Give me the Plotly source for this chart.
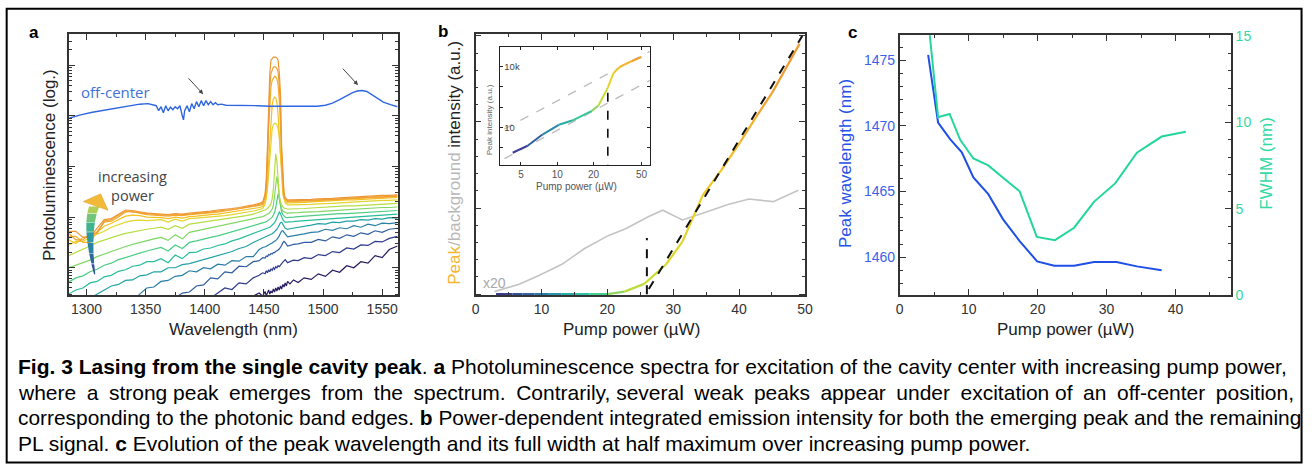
import numpy as np
import plotly.graph_objects as go

W, H = 1315, 472
def X(px): return px / W
def Y(py): return 1 - py / H

# ---------------- Panel a: PL spectra (log10 of intensity) ----------------
wavelength = [1285,1291,1297,1303,1309,1315,1321,1327,1333,1339,1345,1351,1357,1363,1369,1375,1381,1387,1393,1399,1405,1411,1417,1423,1429,1435,1441,
              1446,1449,
              1451,1452,1453,1454,1455,1456,1457,1458,1459,1460,1461,1462,1463,1464,1465,1466,1467,1468,1469,1470,
              1472,1475,1479,1484,
              1490,1496,1502,1508,1514,1520,1526,1532,1538,1544,1550,1556,
              1563]

log_p01 = [-1.2,-1.2,-1.2,-1.2,-1.2,-1.2,-1.2,-1.2,-1.2,-1.2,-1.2,-1.2,-1.2,-1.2,-1.2,-1.2,-1.2,-1.2,-1.2,-1.2,-1.2,-1.2,-1.0,-0.85,-0.7,-0.6,-0.56,
           -0.5,-0.56,
           -0.47,-0.55,-0.5,-0.44,-0.52,-0.46,-0.5,-0.42,-0.48,-0.4,-0.46,-0.38,-0.44,-0.36,-0.42,-0.33,-0.38,-0.3,-0.36,-0.27,
           -0.32,-0.24,-0.29,-0.2,
           -0.23,-0.12,-0.17,-0.05,-0.09,0.04,0.0,0.12,0.09,0.24,0.2,0.36,
           0.43]
log_p02 = [-1.2,-1.2,-1.2,-1.2,-1.2,-1.2,-1.2,-1.2,-1.2,-1.2,-1.2,-1.2,-1.2,-1.2,-1.2,-1.2,-1.2,-1.2,-1.2,-0.75,-0.6,-0.5,-0.4,-0.43,-0.3,-0.32,-0.2,
           -0.15,-0.1,
           -0.12,-0.06,-0.1,-0.04,-0.08,-0.02,-0.05,0.0,-0.03,0.02,0.0,0.04,0.02,0.06,0.08,0.11,0.14,0.16,0.13,0.1,
           0.12,0.15,0.14,0.2,
           0.18,0.26,0.24,0.32,0.3,0.39,0.37,0.45,0.44,0.52,0.51,0.58,
           0.62]
log_p03 = [-1.2,-1.2,-1.2,-1.2,-1.2,-1.2,-1.2,-1.2,-1.2,-1.2,-1.2,-1.2,-1.2,-0.9,-0.75,-0.6,-0.5,-0.48,-0.36,-0.34,-0.2,-0.22,-0.08,-0.1,0.03,0.02,0.12,
           0.14,0.2,
           0.19,0.23,0.22,0.26,0.25,0.28,0.27,0.3,0.3,0.32,0.33,0.35,0.37,0.4,0.44,0.49,0.52,0.5,0.45,0.43,
           0.44,0.46,0.47,0.5,
           0.5,0.56,0.53,0.61,0.58,0.65,0.62,0.69,0.66,0.73,0.7,0.76,
           0.78]
log_p04 = [-1.2,-1.2,-1.2,-1.2,-1.2,-1.2,-1.2,-1.2,-0.9,-0.68,-0.52,-0.4,-0.38,-0.27,-0.25,-0.17,-0.15,-0.06,-0.08,0.0,-0.02,0.07,0.05,0.14,0.13,0.22,0.22,
           0.36,0.4,
           0.41,0.42,0.44,0.45,0.46,0.48,0.49,0.51,0.52,0.54,0.56,0.59,0.63,0.68,0.72,0.73,0.7,0.65,0.62,0.61,
           0.62,0.63,0.65,0.67,
           0.7,0.71,0.76,0.74,0.79,0.77,0.83,0.8,0.86,0.83,0.88,0.87,
           0.89]
log_p05 = [-1.0,-0.85,-0.7,-0.6,-0.52,-0.44,-0.36,-0.33,-0.25,-0.24,-0.16,-0.14,-0.08,-0.08,0.0,0.0,0.06,0.08,0.12,0.15,0.2,0.23,0.28,0.32,0.38,0.42,0.5,
           0.55,0.59,
           0.6,0.61,0.62,0.63,0.64,0.66,0.67,0.69,0.71,0.73,0.76,0.8,0.85,0.89,0.9,0.86,0.81,0.78,0.77,0.76,
           0.77,0.78,0.8,0.82,
           0.84,0.87,0.86,0.9,0.89,0.92,0.92,0.95,0.94,0.97,0.96,0.99,
           0.98]
log_p06 = [-0.52,-0.44,-0.4,-0.3,-0.27,-0.18,-0.15,-0.07,-0.04,0.03,0.05,0.12,0.12,0.18,0.1,0.25,0.18,0.3,0.31,0.37,0.39,0.44,0.47,0.53,0.57,0.62,0.67,
           0.72,0.74,
           0.76,0.77,0.78,0.79,0.8,0.82,0.84,0.86,0.89,0.93,0.98,1.05,1.1,1.07,1.0,0.95,0.92,0.9,0.9,0.9,
           0.9,0.91,0.92,0.93,
           0.94,0.95,0.96,0.97,0.98,0.99,1.0,1.01,1.02,1.03,1.04,1.05,
           1.06]
log_p07 = [-0.28,-0.2,-0.16,-0.08,-0.03,0.05,0.09,0.16,0.2,0.25,0.29,0.33,0.36,0.4,0.33,0.45,0.38,0.5,0.53,0.57,0.6,0.63,0.67,0.7,0.74,0.78,0.82,
           0.86,0.88,
           0.9,0.91,0.92,0.94,0.96,0.98,1.0,1.04,1.09,1.18,1.32,1.46,1.36,1.2,1.1,1.05,1.02,1.0,0.99,0.99,
           0.99,1.0,1.01,1.02,
           1.03,1.04,1.05,1.06,1.07,1.07,1.08,1.09,1.1,1.11,1.11,1.12,
           1.13]
log_p08 = [0.0,0.05,0.1,0.15,0.22,0.27,0.33,0.37,0.42,0.46,0.5,0.54,0.57,0.6,0.54,0.65,0.57,0.7,0.73,0.76,0.79,0.82,0.84,0.87,0.9,0.93,0.96,
           0.99,1.01,
           1.03,1.04,1.05,1.07,1.09,1.12,1.16,1.23,1.38,1.62,1.8,1.65,1.4,1.24,1.16,1.12,1.1,1.09,1.08,1.08,
           1.08,1.08,1.09,1.1,
           1.1,1.11,1.12,1.13,1.14,1.15,1.16,1.16,1.17,1.18,1.19,1.19,
           1.2]
log_p09 = [0.24,0.3,0.37,0.43,0.5,0.55,0.6,0.64,0.68,0.71,0.74,0.76,0.78,0.8,0.76,0.83,0.78,0.86,0.88,0.9,0.92,0.94,0.96,0.98,1.0,1.03,1.06,
           1.1,1.12,
           1.14,1.15,1.17,1.19,1.22,1.27,1.36,1.55,1.95,2.25,2.1,1.7,1.42,1.3,1.24,1.2,1.18,1.17,1.16,1.16,
           1.16,1.16,1.17,1.17,
           1.18,1.19,1.19,1.2,1.21,1.22,1.22,1.23,1.24,1.25,1.25,1.26,
           1.27]
log_p10 = [0.45,0.52,0.52,0.6,0.66,0.72,0.8,0.85,0.9,0.93,0.94,0.93,0.94,0.95,0.9,0.96,0.92,0.97,0.98,0.99,1.0,1.01,1.03,1.05,1.07,1.09,1.12,
           1.15,1.17,
           1.26,1.36,1.55,1.9,2.25,2.58,2.75,2.82,2.85,2.85,2.82,2.75,2.58,2.25,1.9,1.56,1.38,1.28,1.25,1.24,
           1.24,1.24,1.24,1.25,
           1.25,1.26,1.26,1.27,1.28,1.29,1.3,1.3,1.31,1.32,1.33,1.33,
           1.34]
log_p11 = [0.55,0.48,0.6,0.62,0.7,0.82,0.88,0.95,1.02,1.04,1.03,1.0,1.0,0.99,0.97,1.0,0.98,1.01,1.02,1.04,1.05,1.06,1.08,1.1,1.12,1.14,1.16,
           1.19,1.21,
           1.32,1.42,1.66,2.09,2.56,2.98,3.22,3.33,3.37,3.35,3.26,3.02,2.6,2.13,1.7,1.46,1.36,1.31,1.29,1.28,
           1.28,1.28,1.29,1.29,
           1.3,1.31,1.31,1.32,1.33,1.34,1.34,1.35,1.36,1.37,1.37,1.38,
           1.39]
log_p12 = [0.62,0.62,0.5,0.5,0.72,0.9,0.92,1.0,1.1,1.12,1.08,1.05,1.04,1.03,1.02,1.04,1.03,1.05,1.06,1.08,1.09,1.1,1.12,1.14,1.16,1.18,1.2,
           1.23,1.25,
           1.4,1.57,2.02,2.78,3.28,3.58,3.7,3.76,3.78,3.77,3.73,3.61,3.31,2.81,2.05,1.6,1.43,1.36,1.33,1.31,
           1.31,1.31,1.31,1.32,
           1.32,1.33,1.33,1.34,1.35,1.36,1.36,1.37,1.38,1.39,1.39,1.4,
           1.41]
log_p13 = [0.68,0.55,0.55,0.68,0.68,0.92,0.95,1.03,1.12,1.1,1.09,1.07,1.06,1.04,1.04,1.05,1.05,1.06,1.07,1.09,1.1,1.12,1.13,1.15,1.17,1.19,1.22,
           1.25,1.27,
           1.41,1.66,2.19,3.11,3.57,3.84,3.92,3.96,3.97,3.96,3.93,3.87,3.6,3.14,2.22,1.69,1.44,1.36,1.33,1.32,
           1.32,1.32,1.32,1.33,
           1.33,1.34,1.34,1.35,1.36,1.37,1.37,1.38,1.39,1.4,1.4,1.41,
           1.42]
log_p14 = [0.72,0.72,0.6,0.6,0.78,0.95,0.97,1.06,1.14,1.13,1.1,1.08,1.07,1.06,1.05,1.07,1.06,1.08,1.09,1.11,1.12,1.14,1.15,1.17,1.19,1.21,1.24,
           1.27,1.3,
           1.46,1.75,2.4,3.45,3.85,4.1,4.14,4.16,4.16,4.16,4.14,4.1,3.85,3.45,2.4,1.75,1.47,1.38,1.35,1.34,
           1.34,1.34,1.34,1.35,
           1.35,1.36,1.36,1.37,1.38,1.39,1.39,1.4,1.41,1.42,1.43,1.43,
           1.44]

offc_wl = [1285,1295,1305,1315,1325,1335,1345,1352,1356,1359,
           1361,1363,1365,1367,1369,1371,1373,1375,1377,1379,1381,1382,1383,
           1385,1387,1389,1391,1393,1395,1397,1399,1401,1403,1405,1407,1409,1411,
           1414,1418,1425,1435,1445,1455,1465,1475,1485,1495,
           1502,1508,1514,1520,1525,1529,1533,1537,1541,1546,1551,1557,1563]
offc_log = [2.95,3.02,3.07,3.11,3.15,3.19,3.23,3.24,3.22,3.2,
            3.1,3.18,3.06,3.2,3.1,3.17,3.12,3.18,3.14,3.2,3.0,2.92,3.1,
            3.2,3.08,3.24,3.14,3.28,3.18,3.3,3.2,3.3,3.22,3.28,3.22,3.26,3.22,
            3.23,3.21,3.21,3.2,3.2,3.19,3.19,3.18,3.18,3.19,
            3.21,3.25,3.32,3.4,3.46,3.49,3.5,3.48,3.42,3.34,3.27,3.22,3.18]

spectra = [log_p01, log_p02, log_p03, log_p04, log_p05, log_p06, log_p07,
           log_p08, log_p09, log_p10, log_p11, log_p12, log_p13, log_p14]
spec_colors = ['#251a5f', '#2f3a8d', '#2f5c9f', '#2b7ea6', '#22a2a6', '#27bd9b', '#4bcd84',
               '#80d766', '#b6dd42', '#e3d52b', '#f4c022', '#f2ad2b', '#ef9f33', '#ee9636']

# ---------------- Panel b: integrated intensity ----------------
b_power = [3.1, 4.3, 5.6, 7.1, 8.9, 11.0, 13.0, 15.0, 17.3, 20.0, 22.6, 25.6, 28.9, 31.4, 34.5, 37.3, 40.2, 42.6, 45.1, 49.2]
b_peak = [0, 0, 0, 0, 0, 0, 0, 0, 0, 0, 0.03, 0.12, 0.345, 0.61, 1.15, 1.44, 1.77, 2.06, 2.35, 2.91]
b_seg_colors = ['#3a3593', '#37419a', '#3250a0', '#2f62a6', '#2b7aa9', '#2893aa', '#27aca8', '#2ec3a6',
                '#45cf8e', '#8dd565', '#bcdc3c', '#cadd30', '#dcd82a', '#e8d127', '#efc825', '#f3bc27',
                '#f3b02b', '#f1a530', '#ef9c34']
bg_power = [2.86, 6.6, 9.6, 13.1, 16.6, 20.2, 22.7, 26.2, 28.4, 31.4, 34.7, 38.2, 41.5, 45.2, 49.0]
bg_x20 = [0.03, 0.116, 0.217, 0.347, 0.534, 0.683, 0.758, 0.9, 0.975, 0.862, 0.945, 1.038, 1.105, 1.075, 1.206]
fit_power = [26.3, 49.6]
fit_val = [0.06, 3.0]
thr_power = [26.0, 26.0]
thr_val = [0.0, 0.654]

# inset (log-log)
in_power = [4.27, 5.68, 7.54, 10.3, 13.3, 19.4, 22.0, 26.3, 29.3, 33.2, 41.4, 50.0]
in_peak = [0.55, 1.23, 4.4, 13.3, 21.6, 65, 120, 920, 4800, 10000, 18600, 30200]
in_seg_colors = ['#3a3c98', '#2f5ea5', '#2987a9', '#27aca6', '#35c795', '#8cd565', '#c6dc33',
                 '#e3d529', '#f0c526', '#f3b42a', '#f0a132']
in_fit_power = [3.65, 60.4]
in_fit_hi = [8.3, 63000]
in_fit_lo = [0.28, 2290]
in_thr_power = [26.3, 26.3]
in_thr_val = [0.05, 920]

# ---------------- Panel c: peak wavelength & FWHM ----------------
c_power_wl = [4.12, 5.56, 7.33, 9.0, 10.68, 12.84, 14.99, 17.39, 19.93, 22.42, 25.29, 28.17, 31.43, 34.4, 37.99]
c_wl = [1475.42, 1470.26, 1468.97, 1467.99, 1466.07, 1464.8, 1462.88, 1461.23, 1459.68, 1459.34, 1459.34, 1459.63, 1459.63, 1459.3, 1459.0]
c_power_fwhm = [4.12, 5.56, 7.23, 8.77, 10.68, 12.84, 14.99, 17.39, 19.88, 22.52, 25.29, 28.17, 31.28, 34.4, 37.99, 41.49]
c_fwhm = [16.0, 10.31, 10.5, 9.0, 7.92, 7.52, 6.8, 6.02, 3.38, 3.19, 3.91, 5.41, 6.49, 8.26, 9.19, 9.47]

# ---------------- figure ----------------
fig = go.Figure()

for vals, col in zip(spectra, spec_colors):
    fig.add_trace(go.Scatter(x=wavelength, y=10 ** np.array(vals), mode='lines',
                             line=dict(color=col, width=1.2), xaxis='x', yaxis='y', hoverinfo='skip'))
fig.add_trace(go.Scatter(x=offc_wl, y=10 ** np.array(offc_log), mode='lines',
                         line=dict(color='#2f66e0', width=1.4), xaxis='x', yaxis='y', hoverinfo='skip'))

# panel b
fig.add_trace(go.Scatter(x=bg_power, y=bg_x20, mode='lines', line=dict(color='#c4c4c4', width=1.6),
                         xaxis='x2', yaxis='y2', hoverinfo='skip'))
for i in range(len(b_power) - 1):
    fig.add_trace(go.Scatter(x=b_power[i:i + 2], y=b_peak[i:i + 2], mode='lines',
                             line=dict(color=b_seg_colors[i], width=2.2), xaxis='x2', yaxis='y2', hoverinfo='skip'))
fig.add_trace(go.Scatter(x=fit_power, y=fit_val, mode='lines', line=dict(color='#111', width=2, dash='dash'),
                         xaxis='x2', yaxis='y2', hoverinfo='skip'))
fig.add_trace(go.Scatter(x=thr_power, y=thr_val, mode='lines', line=dict(color='#111', width=2, dash='dash'),
                         xaxis='x2', yaxis='y2', hoverinfo='skip'))

# inset
for fy in (in_fit_hi, in_fit_lo):
    fig.add_trace(go.Scatter(x=in_fit_power, y=fy, mode='lines', line=dict(color='#bdbdbd', width=1.4, dash='dash'),
                             xaxis='x3', yaxis='y3', hoverinfo='skip'))
for i in range(len(in_power) - 1):
    fig.add_trace(go.Scatter(x=in_power[i:i + 2], y=in_peak[i:i + 2], mode='lines',
                             line=dict(color=in_seg_colors[i], width=2), xaxis='x3', yaxis='y3', hoverinfo='skip'))
fig.add_trace(go.Scatter(x=in_thr_power, y=in_thr_val, mode='lines', line=dict(color='#111', width=1.6, dash='dash'),
                         xaxis='x3', yaxis='y3', hoverinfo='skip'))

# panel c
fig.add_trace(go.Scatter(x=c_power_wl, y=c_wl, mode='lines', line=dict(color='#1f4fe6', width=2),
                         xaxis='x4', yaxis='y4', hoverinfo='skip'))
fig.add_trace(go.Scatter(x=c_power_fwhm, y=c_fwhm, mode='lines', line=dict(color='#22d69c', width=2),
                         xaxis='x4', yaxis='y5', hoverinfo='skip'))

LC = '#333'
common = dict(showline=True, linecolor=LC, linewidth=1.6, ticks='inside', ticklen=6, tickwidth=1.3,
              tickcolor=LC, showgrid=False, zeroline=False)
tf = dict(size=14, color='#333')
yb, yt = Y(297.7), Y(28.3)

fig.update_layout(
    width=W, height=H, autosize=False, margin=dict(l=0, r=0, t=0, b=0),
    paper_bgcolor='white', plot_bgcolor='white', showlegend=False,
    font=dict(family='Arial, Liberation Sans, sans-serif', color='#333'),
    xaxis=dict(domain=[X(65.7), X(397.3)], anchor='y', range=[1285.3, 1563.1], tick0=1300, dtick=50,
               minor=dict(dtick=25, ticks='inside', ticklen=3, tickcolor=LC), mirror='ticks', tickfont=tf, **common),
    yaxis=dict(domain=[yb, yt], anchor='x', type='log', range=[-0.543, 4.608], dtick=1, tick0=0,
               showticklabels=False, minor=dict(ticks='inside', ticklen=3, tickcolor=LC, dtick='D1'),
               mirror='ticks', **common),
    xaxis2=dict(domain=[X(476), X(808.3)], anchor='y2', range=[0, 50], tick0=0, dtick=10,
                minor=dict(dtick=5, ticks='inside', ticklen=3, tickcolor=LC), mirror='ticks', tickfont=tf, **common),
    yaxis2=dict(domain=[yb, yt], anchor='x2', range=[-0.012, 3.017], tick0=0, dtick=1, showticklabels=False,
                minor=dict(dtick=0.2, ticks='inside', ticklen=3, tickcolor=LC), mirror='ticks', **common),
    xaxis3=dict(domain=[X(500.7), X(651.7)], anchor='y3', type='log', range=[0.526, 1.768],
                tickvals=[5, 10, 20, 50], ticktext=['5', '10', '20', '50'], tickfont=dict(size=10, color='#555'),
                showline=True, linecolor='#222', linewidth=1.2, ticks='inside', ticklen=3, tickcolor='#222',
                mirror='ticks', showgrid=False, zeroline=False),
    yaxis3=dict(domain=[Y(163.3), Y(41)], anchor='x3', type='log', range=[-0.87, 4.99],
                tickvals=[1, 10, 100, 1000, 10000], ticktext=['', '10', '', '', '10k'],
                ticklabelposition='inside', tickfont=dict(size=9.5, color='#444'),
                showline=True, linecolor='#222', linewidth=1.2, ticks='inside', ticklen=3, tickcolor='#222',
                mirror='ticks', showgrid=False, zeroline=False),
    xaxis4=dict(domain=[X(904), X(1238.3)], anchor='y4', range=[0, 48.05], tick0=0, dtick=10,
                minor=dict(dtick=5, ticks='inside', ticklen=3, tickcolor=LC), mirror='ticks', tickfont=tf, **common),
    yaxis4=dict(domain=[yb, Y(29.3)], anchor='x4', range=[1457.1, 1476.9], tickvals=[1460, 1465, 1470, 1475],
                minor=dict(dtick=1, ticks='inside', ticklen=3, tickcolor=LC),
                tickfont=dict(size=14, color='#3a62e8'), **common),
    yaxis5=dict(overlaying='y4', side='right', anchor='x4', range=[0, 15.05], tick0=0, dtick=5,
                minor=dict(dtick=1, ticks='inside', ticklen=3, tickcolor=LC),
                tickfont=dict(size=14, color='#33d9a3'), **common),
)

ann = []
def text(x, y, s, size=17, color='#222', angle=0, xanchor='center', family=None, yanchor='middle'):
    d = dict(x=X(x), y=Y(y), xref='paper', yref='paper', text=s, showarrow=False, textangle=angle,
             xanchor=xanchor, yanchor=yanchor, font=dict(size=size, color=color))
    if family:
        d['font']['family'] = family
    ann.append(d)

# panel letters
text(30.5, 26, '<b>a</b>', size=17, color='#000')
text(443, 25, '<b>b</b>', size=17, color='#000')
text(856.7, 26, '<b>c</b>', size=17, color='#000')
# axis titles
text(46.7, 163, 'Photoluminescence (log.)', angle=-90)
text(455, 161, '<span style="color:#f5b530">Peak</span><span style="color:#b8b8b8">/background</span> intensity (a.u.)', angle=-90)
text(850, 162, 'Peak wavelength (nm)', color='#2552e6', angle=-90)
text(1274, 161.5, 'FWHM (nm)', color='#33d9a3', angle=-90)
text(232, 333, 'Wavelength (nm)')
text(633, 333, 'Pump power (µW)')
text(1071, 333, 'Pump power (µW)')
# inset titles
text(490.7, 116.7, 'Peak intensity (a.u.)', size=8, color='#666', angle=-90)
text(578, 185, 'Pump power (µW)', size=10, color='#555')
# in-plot labels
text(112.5, 87.3, 'off-center', size=15, color='#3f72d6', family='Open Sans')
text(130, 185, 'increasing<br>power', size=14.5, color='#444', family='Open Sans')
text(481.7, 285, 'x20', size=14, color='#a8a8a8', xanchor='left')

# small black arrows
for (tx, ty, hx, hy) in [(185, 72.7, 201, 90), (340.7, 62.7, 357.3, 80.7)]:
    ann.append(dict(x=X(hx), y=Y(hy), xref='paper', yref='paper', ax=tx - hx, ay=ty - hy, axref='pixel', ayref='pixel',
                    text='', showarrow=True, arrowhead=2, arrowsize=0.9, arrowwidth=1, arrowcolor='#444'))

# caption (justified look via wider spaces on line 2)
EN = '\u2002'
line1 = '<b>Fig. 3 Lasing from the single cavity peak</b>. <b>a</b> Photoluminescence spectra for excitation of the cavity center with increasing pump power,'
w2 = 'where a strong peak emerges from the spectrum. Contrarily, several weak peaks appear under excitation of an off-center position,'.split(' ')
line2 = ''
for j, wd in enumerate(w2):
    if j > 0:
        line2 += (' ' if j in (3, 9, 15) else EN)
    line2 += wd
cap_lines = [
    (line1, 21),
    (line2, 21),
    ('corresponding to the photonic band edges. <b>b</b> Power-dependent integrated emission intensity for both the emerging peak and the remaining', 20.9),
    ('PL signal. <b>c</b> Evolution of the peak wavelength and its full width at half maximum over increasing pump power.', 21),
]
for k, (line, fs) in enumerate(cap_lines):
    text(12, 371 + 26.7 * k, line, size=fs, color='#000', xanchor='left')

shapes = []
# gradient arrow (increasing power)
arrow_body = [(91.5, 276, 0.6), (89.6, 265, 1.4), (88.1, 254, 2.2), (87.2, 243, 3.0), (86.9, 232, 3.7),
              (87.4, 222, 4.3), (88.8, 213, 4.8), (91.0, 205.5, 5.2)]
arrow_cols = ['#2d4f95', '#2c669f', '#2a80a5', '#2c9a9f', '#3fb28e', '#72c578', '#b0cf58']
for i in range(len(arrow_body) - 1):
    (x0, y0, w0), (x1, y1, w1) = arrow_body[i], arrow_body[i + 1]
    p = f"M{X(x0-w0)},{Y(y0)} L{X(x0+w0)},{Y(y0)} L{X(x1+w1)},{Y(y1+0.6)} L{X(x1-w1)},{Y(y1+0.6)} Z"
    shapes.append(dict(type='path', path=p, xref='paper', yref='paper', fillcolor=arrow_cols[i],
                       line=dict(width=0)))
shapes.append(dict(type='path', path=f"M{X(80)},{Y(201)} L{X(97.5)},{Y(193)} L{X(105)},{Y(210)} Z",
                   xref='paper', yref='paper', fillcolor='#f2b838', line=dict(width=0.6, color='#e0a630')))
# outer frame
shapes.append(dict(type='rect', xref='paper', yref='paper', x0=X(2.7), x1=X(1309.5), y0=Y(470.5), y1=Y(1.7),
                   line=dict(color='#000', width=2)))

fig.update_layout(annotations=ann, shapes=shapes)
fig.write_html('out.html', config={'displayModeBar': False},
               post_script="document.body.style.margin='0px';document.body.style.padding='0px';document.body.style.overflow='hidden';")
